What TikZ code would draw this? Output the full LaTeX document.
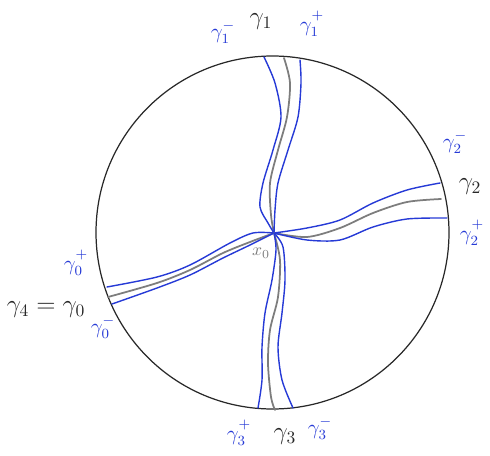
\documentclass[tikz,border=0pt]{standalone}
\usepackage{amsmath,amssymb}
\usepackage{tikz}
\usetikzlibrary{positioning, calc}
\usepackage{xcolor}
\definecolor{penblue}{RGB}{38,58,214}
\definecolor{pengray}{RGB}{125,125,125}
\definecolor{penblack}{RGB}{40,40,40}
\newcommand{\hiplus}{\raisebox{2.5pt}{$\scriptstyle +$}}

\begin{document}
\begin{tikzpicture}[x=0.02cm, y=-0.02cm,
    disk/.style={penblack, line width=0.7pt},
    mid/.style={pengray, line width=1pt, line cap=round},
    side/.style={penblue, line width=0.8pt, line cap=round},
    blab/.style={penblack, font=\Large, inner sep=0pt},
    slab/.style={penblue, font=\large, inner sep=0pt}]
  \useasboundingbox (0,0) rectangle (490,456);
  % the disc
  \draw[disk] (272.5,232.5) circle[radius=176.5];
  \coordinate (xo) at (274,233);
  % gamma 1 (top)
  \draw[mid] plot[smooth] coordinates {(xo) (271,215) (270,183) (278,150) (287,117) (290,83) (284,58)};
  \draw[side] plot[smooth] coordinates {(xo) (268,223) (260,207) (263,183) (273,150) (281,117) (275,83) (264,57)};
  \draw[side] plot[smooth] coordinates {(xo) (275,210) (278,183) (288,150) (298,117) (301,83) (300,60)};
  % gamma 2 (right)
  \draw[mid] plot[smooth] coordinates {(xo) (307,237) (340,228) (373,213) (407,202) (441,199)};
  \draw[side] plot[smooth] coordinates {(xo) (307,228) (340,220) (373,203) (407,190) (440,183)};
  \draw[side] plot[smooth] coordinates {(xo) (307,240) (340,240) (373,227) (407,219) (447,218)};
  % gamma 0 (left)
  \draw[mid] plot[smooth] coordinates {(xo) (250,242) (223,253) (190,270) (157,283) (108,297)};
  \draw[side] plot[smooth] coordinates {(xo) (253,233) (230,243) (190,265) (157,277) (107,287)};
  \draw[side] plot[smooth] coordinates {(xo) (250,245) (223,258) (190,275) (157,288) (112,304)};
  % gamma 3 (bottom)
  \draw[mid] plot[smooth] coordinates {(xo) (280,260) (278,297) (270,330) (268,363) (271,397) (275,410)};
  \draw[side] plot[smooth] coordinates {(xo) (276,250) (272,280) (265,313) (262,347) (262,380) (258,408)};
  \draw[side] plot[smooth] coordinates {(xo) (283,247) (285,280) (282,313) (278,347) (282,380) (293,408)};
  % labels
  \node[pengray, font=\normalsize, inner sep=0pt] (lxo) at (261,253) {$x_0$};
  \node[blab] (l1) at (261,22) {$\gamma_1$};
  \node[slab] (l1m) at (223,32) {$\gamma_1^-$};
  \node[slab] (l1p) at (312,24) {$\gamma_1^{\hiplus}$};
  \node[blab] (l2) at (470,187) {$\gamma_2$};
  \node[slab] (l2m) at (455,142) {$\gamma_2^-$};
  \node[slab] (l2p) at (472,233) {$\gamma_2^{\hiplus}$};
  \node[blab] (l3) at (285,437) {$\gamma_3$};
  \node[slab] (l3p) at (239,433) {$\gamma_3^{\hiplus}$};
  \node[slab] (l3m) at (320,428) {$\gamma_3^-$};
  \node[blab] (l0) at (46,310) {$\gamma_4=\gamma_0$};
  \node[slab] (l0p) at (76,263) {$\gamma_0^{\hiplus}$};
  \node[slab] (l0m) at (103,327) {$\gamma_0^-$};
\end{tikzpicture}
\end{document}
